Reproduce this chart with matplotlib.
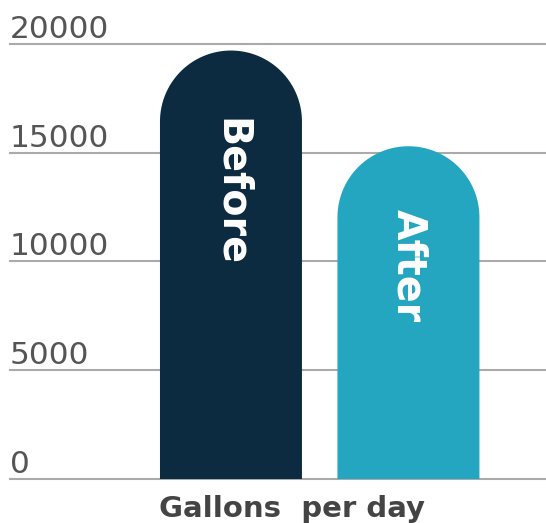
import numpy as np
import matplotlib.pyplot as plt
from matplotlib.patches import PathPatch
from matplotlib.path import Path
import matplotlib.transforms as mtransforms

# ===========================
# 数据
# ===========================
categories = ["Before", "After"]
values = [19700, 15300]
colors = ["#0c2b40", "#24a6c1"]
yticks = [0, 5000, 10000, 15000, 20000]
xlabel = "Gallons  per day"

# ===========================
# 画布
# ===========================
W, H = 546, 523
fig = plt.figure(figsize=(W / 100, H / 100), dpi=100)
ax_l, ax_b, ax_w, ax_h = 10, 44, 536, 435
ax = fig.add_axes([ax_l / W, ax_b / H, ax_w / W, ax_h / H])

xlim = (-1.245, 1.775)
ylim = (0, 20000)
ax.set_xlim(*xlim)
ax.set_ylim(*ylim)
ax.axis("off")

# 网格线 + 刻度文字
for t in yticks:
    ax.axhline(t, color="#aaaaaa", lw=1.5, zorder=1, clip_on=False)
    lab = mtransforms.offset_copy(ax.get_yaxis_transform(), fig=fig, x=0, y=6, units="dots")
    ax.text(0, t, str(t), transform=lab, ha="left", va="baseline",
            fontsize=22.5, color="#555555", family="DejaVu Sans", zorder=3)

# ===========================
# 圆顶柱子（矩形 + 半圆，一条路径）
# ===========================
bar_w = 0.8
ppx = ax_w / (xlim[1] - xlim[0])
ppy = ax_h / (ylim[1] - ylim[0])
rx = bar_w / 2
ry = rx * ppx / ppy

theta = np.linspace(0, np.pi, 60)
for i, (v, c) in enumerate(zip(values, colors)):
    cy = v - ry
    xs = np.concatenate([[i + rx], i + rx * np.cos(theta), [i - rx]])
    ys = np.concatenate([[0], cy + ry * np.sin(theta), [0]])
    verts = np.column_stack([xs, ys])
    ax.add_patch(PathPatch(Path(verts), facecolor=c, edgecolor="none", zorder=2))

label_y = [13195, 9793]
for i, name in enumerate(categories):
    ax.text(i, label_y[i], name, rotation=270, ha="center", va="center",
            fontsize=28.5, fontweight="bold", color="white", family="DejaVu Sans", zorder=4)

fig.text(292 / W, 6 / H, xlabel, ha="center", va="baseline",
         fontsize=21, fontweight="bold", color="#444444", family="DejaVu Sans")

plt.savefig("out.png", dpi=100)
